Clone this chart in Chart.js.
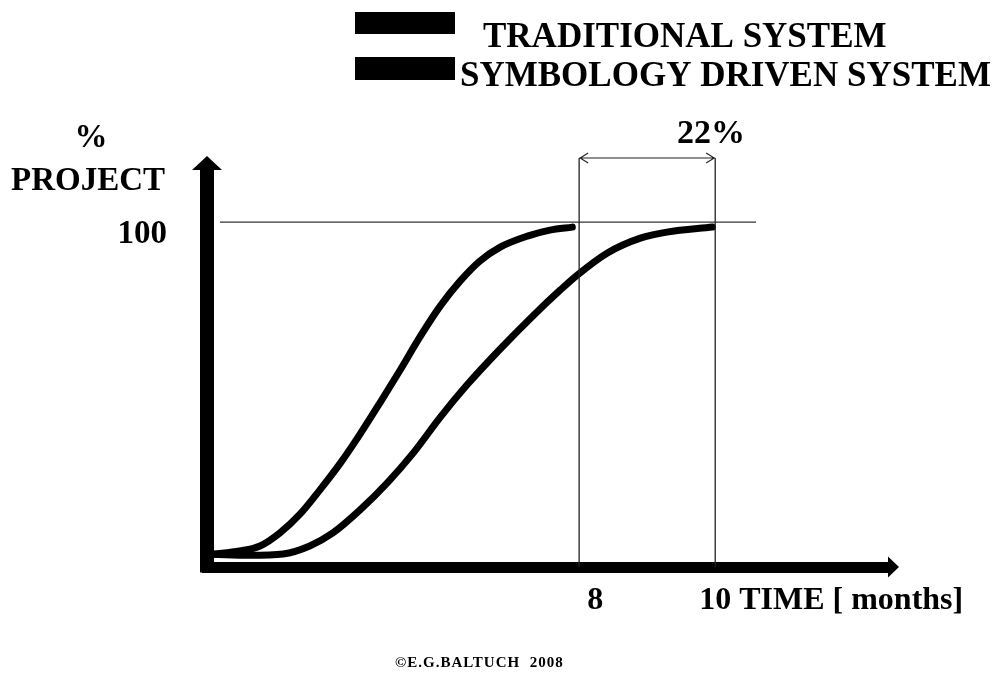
<!DOCTYPE html>
<html>
<head>
<meta charset="utf-8">
<script src="https://cdn.jsdelivr.net/npm/chart.js@4/dist/chart.umd.min.js"></script>
<style>
html,body{margin:0;padding:0;background:#fff;}
#wrap{width:994px;height:681px;}
</style>
</head>
<body>
<div id="wrap"><canvas id="c" width="994" height="681"></canvas></div>
<script>
// ---------- data ----------
const seriesLabels = ['TRADITIONAL SYSTEM', 'SYMBOLOGY DRIVEN SYSTEM'];
// slower curve (finishes at 10 months)
const tradMonths = [2.62, 3.16, 3.65, 4.04, 4.38, 4.78, 5.18, 5.56, 5.96, 6.35, 6.84, 7.32, 7.72, 7.97, 8.41, 8.90, 9.29, 9.96];
const tradPct    = [0.5,  0.2,  0.6,  3.0,  6.9,  13.8, 21.9, 30.8, 41.6, 51.2, 62.0, 71.9, 79.6, 84.1, 90.7, 95.2, 97.0, 98.5];
// faster curve (finishes at 8 months)
const symbMonths = [2.62, 3.01, 3.31, 3.60, 3.90, 4.19, 4.49, 4.78, 5.07, 5.37, 5.66, 5.96, 6.25, 6.54, 6.84, 7.24, 7.57, 7.90];
const symbPct    = [0.5,  1.5,  3.0,  6.9,  12.6, 19.8, 27.8, 36.5, 45.8, 55.7, 65.6, 74.9, 82.3, 88.3, 92.5, 95.8, 97.6, 98.5];

const xTickValues = [8, 10];
const xTickLabels = ['    8', '10'];
const yTickValues = [100];
const yTickLabels = ['100'];
const xAxisTitle = 'TIME [ months]';
const yAxisTitle = ['%', 'PROJECT'];
const savingLabel = '22%';
const footerText = '\u00A9E.G.BALTUCH  2008';

// ---------- styling ----------
const FONT = '"Liberation Serif", "Times New Roman", serif';
const X_MIN = 2.53, X_MAX = 12.54, Y_MIN = -3.3, Y_MAX = 115.6;
const REF_FROM = 2.72, REF_TO = 10.6, DIM_LEVEL = 119.2, SAVING_X = 9.94, SAVING_Y = 126.3;

const decor = {
  id: 'decor',
  afterDraw(chart) {
    const {ctx, chartArea: a, scales: {x, y}} = chart;
    ctx.save();
    ctx.fillStyle = '#000';
    ctx.strokeStyle = '#000';
    // corner
    ctx.fillRect(a.left - 7, a.bottom - 5.5, 14, 11);
    // y arrow head
    ctx.beginPath();
    ctx.moveTo(a.left - 15, a.top);
    ctx.lineTo(a.left, a.top - 14);
    ctx.lineTo(a.left + 15, a.top);
    ctx.closePath(); ctx.fill();
    // x arrow head
    ctx.beginPath();
    ctx.moveTo(a.right, a.bottom - 10.5);
    ctx.lineTo(a.right + 11, a.bottom);
    ctx.lineTo(a.right, a.bottom + 10.5);
    ctx.closePath(); ctx.fill();

    // 100 reference line
    ctx.lineWidth = 1.2;
    ctx.strokeStyle = '#333';
    const y100 = y.getPixelForValue(yTickValues[0]);
    ctx.beginPath();
    ctx.moveTo(x.getPixelForValue(REF_FROM), y100);
    ctx.lineTo(x.getPixelForValue(REF_TO), y100);
    ctx.stroke();

    // vertical lines at 8 and 10
    const yd = y.getPixelForValue(DIM_LEVEL);
    const x8 = x.getPixelForValue(xTickValues[0]);
    const x10 = x.getPixelForValue(xTickValues[1]);
    ctx.lineWidth = 1.3;
    ctx.strokeStyle = '#222';
    ctx.beginPath();
    ctx.moveTo(x8, yd); ctx.lineTo(x8, a.bottom);
    ctx.moveTo(x10, yd); ctx.lineTo(x10, a.bottom);
    ctx.stroke();
    // double arrow
    ctx.lineWidth = 1.1;
    ctx.beginPath();
    ctx.moveTo(x8, yd); ctx.lineTo(x10, yd);
    ctx.moveTo(x8 + 9, yd - 5); ctx.lineTo(x8 + 1, yd); ctx.lineTo(x8 + 9, yd + 5);
    ctx.moveTo(x10 - 9, yd - 5); ctx.lineTo(x10 - 1, yd); ctx.lineTo(x10 - 9, yd + 5);
    ctx.stroke();

    // 22%
    ctx.fillStyle = '#000';
    ctx.font = 'bold 34px ' + FONT;
    ctx.textAlign = 'center';
    ctx.textBaseline = 'middle';
    ctx.fillText(savingLabel, x.getPixelForValue(SAVING_X), y.getPixelForValue(SAVING_Y));

    // y axis title
    ctx.font = 'bold 33px ' + FONT;
    ctx.fillText(yAxisTitle[0], a.left - 116, a.top - 32);
    ctx.fillText(yAxisTitle[1], a.left - 119, a.top + 11);

    // x axis title after "10"
    ctx.font = 'bold 32px ' + FONT;
    const w10 = ctx.measureText(xTickLabels[1]).width;
    let ty = a.bottom + 40;
    let base = 'middle';
    try {
      const items = x.getLabelItems();
      const it = items[1];
      ty = it.options.translation[1] + it.textOffset;
      base = it.options.textBaseline;
    } catch (e) {}
    ctx.textAlign = 'left';
    ctx.textBaseline = base;
    ctx.fillText(' ' + xAxisTitle, x10 + w10 / 2, ty);

    // legend
    const rows = [
      {bx: 355, by: 12, bw: 100, bh: 22, tx: 483, ty: 47},
      {bx: 355, by: 57, bw: 100, bh: 23, tx: 460, ty: 86}
    ];
    ctx.font = 'bold 35px ' + FONT;
    ctx.textBaseline = 'alphabetic';
    chart.data.datasets.forEach((ds, i) => {
      const r = rows[i];
      ctx.fillStyle = ds.borderColor;
      ctx.fillRect(r.bx, r.by, r.bw, r.bh);
      ctx.fillStyle = '#000';
      ctx.fillText(ds.label, r.tx, r.ty);
    });

    // footer
    ctx.font = 'bold 15px ' + FONT;
    try { ctx.letterSpacing = '1px'; } catch (e) {}
    ctx.textBaseline = 'middle';
    ctx.fillText(footerText, 395, 663);
    ctx.restore();
  }
};

const lineStyle = {
  borderColor: '#000',
  borderWidth: 7,
  pointRadius: 0,
  fill: false,
  cubicInterpolationMode: 'monotone',
  borderCapStyle: 'round'
};

new Chart(document.getElementById('c'), {
  type: 'line',
  data: {
    datasets: [
      Object.assign({label: seriesLabels[0], data: tradMonths.map((m, i) => ({x: m, y: tradPct[i]}))}, lineStyle),
      Object.assign({label: seriesLabels[1], data: symbMonths.map((m, i) => ({x: m, y: symbPct[i]}))}, lineStyle)
    ]
  },
  options: {
    responsive: false,
    animation: false,
    layout: {padding: {top: 170, right: 106, bottom: 0, left: 0}},
    plugins: {legend: {display: false}, tooltip: {enabled: false}},
    scales: {
      x: {
        type: 'linear', min: X_MIN, max: X_MAX,
        grid: {display: false, drawTicks: false},
        border: {display: true, color: '#000', width: 11},
        afterBuildTicks: s => { s.ticks = xTickValues.map(v => ({value: v})); },
        ticks: {
          autoSkip: false, maxRotation: 0, padding: 15, color: '#000',
          font: {family: FONT, size: 32, weight: 'bold'},
          callback: (v, i) => xTickLabels[i]
        },
        afterFit: s => { s.height = 114; }
      },
      y: {
        type: 'linear', min: Y_MIN, max: Y_MAX,
        grid: {display: false, drawTicks: false},
        border: {display: true, color: '#000', width: 14},
        afterBuildTicks: s => { s.ticks = yTickValues.map(v => ({value: v})); },
        ticks: {
          padding: 40, labelOffset: 12, color: '#000',
          font: {family: FONT, size: 33, weight: 'bold'},
          callback: (v, i) => yTickLabels[i]
        },
        afterFit: s => { s.width = 207; }
      }
    }
  },
  plugins: [decor]
});
</script>
</body>
</html>
